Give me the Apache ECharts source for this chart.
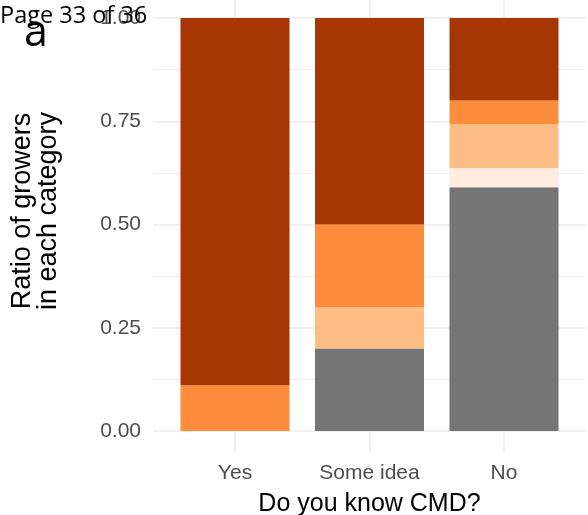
<!DOCTYPE html>
<html>
<head>
<meta charset="utf-8">
<script src="https://cdn.jsdelivr.net/npm/echarts@6/dist/echarts.min.js"></script>
<style>html,body{margin:0;padding:0;background:#fff}#c{width:588px;height:515px}</style>
</head>
<body>
<div id="c"></div>
<script>
const categories = ['Yes', 'Some idea', 'No'];
const grayVals   = [0, 0.20, 0.590];
const paleVals   = [0, 0, 0.047];
const lightVals  = [0, 0.10, 0.106];
const orangeVals = [0.111, 0.20, 0.057];
const darkVals   = [0.889, 0.50, 0.200];
const yTicks = [0, 0.25, 0.5, 0.75, 1];
const yTitle = 'Ratio of growers\nin each category';
const xTitle = 'Do you know CMD?';

const layers = [
  {name: 'gray', data: grayVals, color: '#757575'},
  {name: 'pale', data: paleVals, color: '#FEEDDE'},
  {name: 'light', data: lightVals, color: '#FDBE85'},
  {name: 'orange', data: orangeVals, color: '#FD8D3C'},
  {name: 'dark', data: darkVals, color: '#A63603'}
];

const chart = echarts.init(document.getElementById('c'), null, {renderer: 'canvas'});
const font = 'Liberation Sans, Arial, sans-serif';
chart.setOption({
  animation: false,
  grid: [
    {left: 153, right: 2, top: 18, bottom: 84, outerBoundsMode: 'none', containLabel: false},
    {left: 235, right: 84, top: 18, bottom: 84, outerBoundsMode: 'none', containLabel: false},
    {left: 235, right: 84, top: 0, bottom: 63, outerBoundsMode: 'none', containLabel: false}
  ],
  xAxis: [
    {gridIndex: 0, type: 'value', min: 0, max: 1, show: false},
    {gridIndex: 1, type: 'category', data: categories, boundaryGap: false, show: false},
    {gridIndex: 2, type: 'category', data: categories, boundaryGap: false,
     axisLine: {show: false}, axisTick: {show: false},
     axisLabel: {color: '#4D4D4D', fontSize: 21, fontFamily: font, margin: 11},
     splitLine: {show: true, lineStyle: {color: '#EBEBEB', width: 1.6}},
     name: xTitle, nameLocation: 'middle', nameGap: 40,
     nameTextStyle: {color: '#000', fontSize: 25, fontFamily: font}}
  ],
  yAxis: [
    {gridIndex: 0, type: 'value', min: yTicks[0], max: yTicks[yTicks.length - 1], interval: 0.25,
     axisLine: {show: false}, axisTick: {show: false},
     axisLabel: {color: '#4D4D4D', fontSize: 21, fontFamily: font, margin: 12,
       formatter: v => v.toFixed(2)},
     splitLine: {show: true, lineStyle: {color: '#EBEBEB', width: 1.6}},
     minorTick: {show: false, splitNumber: 2},
     minorSplitLine: {show: true, lineStyle: {color: '#EBEBEB', width: 0.8}}},
    {gridIndex: 1, type: 'value', min: 0, max: 1, show: false},
    {gridIndex: 2, type: 'value', min: 0, max: 1, show: false}
  ],
  series: layers.map(l => ({
    type: 'bar', name: l.name, stack: 'all', xAxisIndex: 1, yAxisIndex: 1,
    data: l.data, barWidth: 109, clip: false,
    itemStyle: {color: l.color}
  })),
  graphic: [
    {type: 'text', x: 36, y: 211, rotation: Math.PI / 2, z: 100,
     style: {text: yTitle, fill: '#000', font: '27px "Liberation Sans"', lineHeight: 26,
       align: 'center', verticalAlign: 'middle'}},
    {type: 'text', left: 0, top: 4, z: 100,
     style: {text: 'Page 33 of 36', fill: '#000', font: '23.5px "Open Sans"'}},
    {type: 'text', left: 24, top: 12, z: 100,
     style: {text: 'a', fill: '#000', font: '43px "Open Sans"'}}
  ]
});
</script>
</body>
</html>
